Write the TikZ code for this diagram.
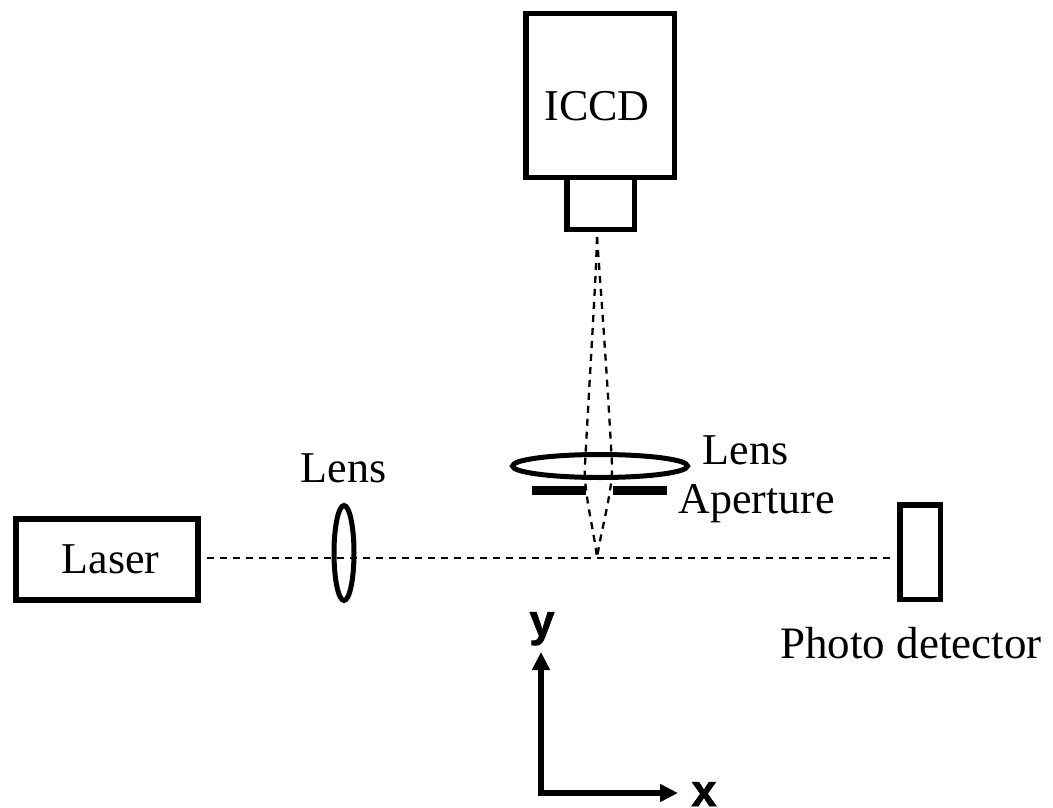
\documentclass[tikz,border=0pt]{standalone}
\usepackage{fontspec}
\setmainfont{Liberation Serif}
\newfontfamily\boldsans[FakeBold=1.5]{Liberation Sans Bold}
\usetikzlibrary{arrows.meta}
\tikzset{
 box/.style={draw=black,line width=5.5pt,fill=white,inner sep=0pt,outer sep=0pt,anchor=north west},
 ray/.style={draw=black,line width=2.3pt,dash pattern=on 7pt off 6pt},
 lensshape/.style={draw=black,line width=5pt},
 lbl/.style={font=\fontsize{44}{44}\selectfont,inner sep=0pt,text=black,anchor=base},
 axlbl/.style={font=\boldsans\fontsize{45}{45}\selectfont,inner sep=0pt,text=black,anchor=base},
 axis/.style={draw=black,line width=6pt,line join=miter,{Triangle[length=18pt,width=17pt]}-{Triangle[length=18pt,width=17pt]}}
}
\begin{document}
\begin{tikzpicture}[x=1pt,y=-1pt]
\useasboundingbox (0,0) rectangle (1053,808);
\fill[white] (0,0) rectangle (1053,808);
\coordinate (focus) at (597,558);
\coordinate (camL) at (597,237);
\coordinate (lensLeft) at (585,465);
\coordinate (lensRight) at (612,465);
\coordinate (rayL) at (207,558);
\coordinate (rayR) at (893,558);
\coordinate (origin) at (541,793);
\coordinate (yend) at (541,652);
\coordinate (xend) at (678,793);
\draw[ray] (rayL) -- (rayR);
\draw[ray] (camL) .. controls (596,280) and (590,370) .. (lensLeft) .. controls (583,490) and (594,530) .. (focus);
\draw[ray] (camL) .. controls (600,280) and (607,370) .. (lensRight) .. controls (613,490) and (601,530) .. (focus);
\node[box,minimum width=67.5pt,minimum height=55pt] (nose) at (566.75,174.25) {};
\node[box,minimum width=148.5pt,minimum height=163.5pt] (ccd) at (525.75,13.75) {};
\node[lbl] (ccdtxt) at (597,121) {ICCD};
\node[box,minimum width=182pt,minimum height=81pt,fill=none] (laser) at (16,519) {};
\node[lbl] (lasertxt) at (110.5,573) {Laser};
\node[box,minimum width=40.5pt,minimum height=94.5pt,fill=none] (pd) at (899.75,504.75) {};
\draw[lensshape] (344,553) ellipse (10pt and 47.5pt);
\draw[lensshape] (600,466) ellipse (87.5pt and 11.5pt);
\fill (532,486) rectangle (586,495);
\fill (613,486) rectangle (667,495);
\node[lbl] (lens1) at (343.5,482) {Lens};
\node[lbl] (lens2) at (745.5,464) {Lens};
\node[lbl] (apert) at (756.5,513) {Aperture};
\node[lbl,font=\fontsize{45}{45}\selectfont] (photo) at (911,658) {Photo detector};
\node[axlbl] (ylab) at (542,636) {y};
\node[axlbl] (xlab) at (704,806) {x};
\draw[axis] (yend) -- (origin) -- (xend);
\end{tikzpicture}
\end{document}
